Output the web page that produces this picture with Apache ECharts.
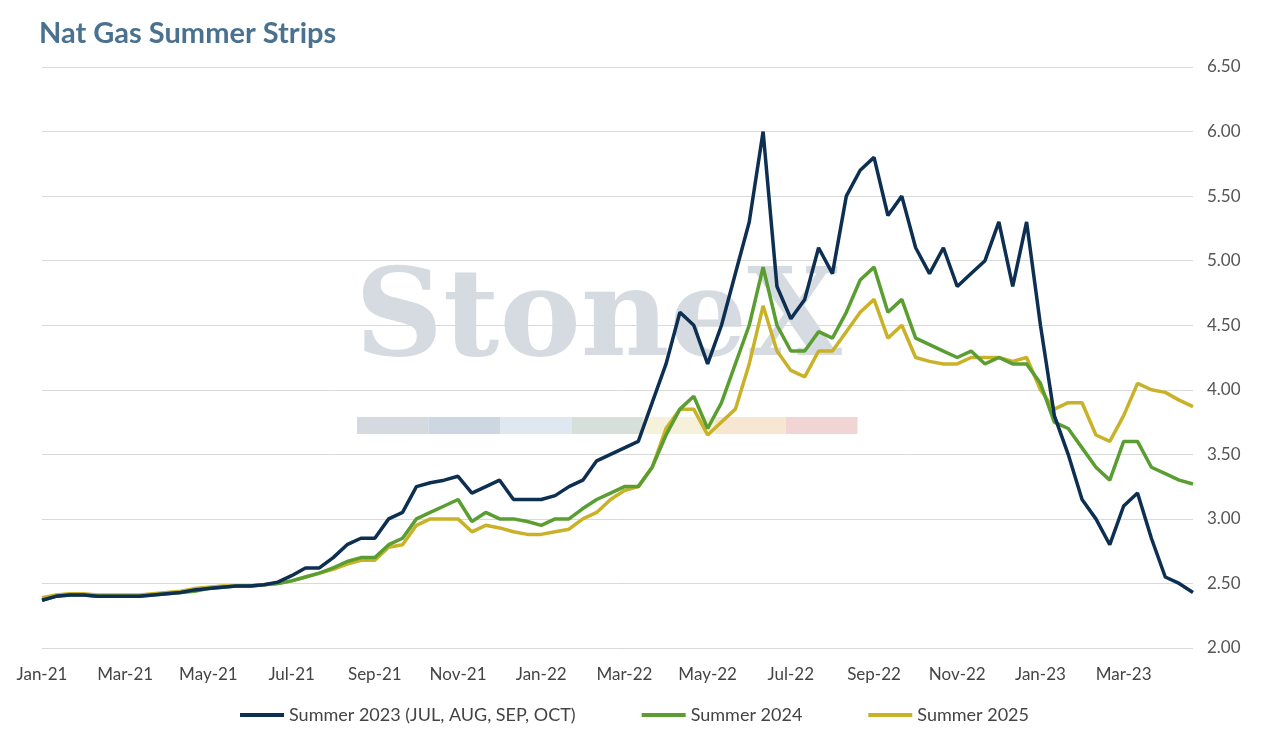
<!DOCTYPE html>
<html><head><meta charset="utf-8">
<script src="https://cdn.jsdelivr.net/npm/echarts@6/dist/echarts.min.js"></script>
<style>html,body{margin:0;padding:0;background:#fff}#chart{width:1269px;height:737px}</style>
</head><body><div id="chart"></div>
<script>
// three samples per month (1st, 11th, 21st), Jan-21 .. Apr-23
const monthNames = ['Jan','Feb','Mar','Apr','May','Jun','Jul','Aug','Sep','Oct','Nov','Dec']
const dates = []
for (let y = 2021; y <= 2023; y++) {
  for (let m = 0; m < 12; m++) {
    if (y === 2023 && m > 3) break
    ;[1, 11, 21].forEach(d => dates.push(monthNames[m] + '-' + String(y).slice(2) + '|' + d))
  }
}
const summer2023 = [
  2.37,2.40,2.41, 2.41,2.40,2.40, 2.40,2.40,2.41, 2.42,2.43,2.45, 2.46,2.47,2.48, 2.48,2.49,2.51,
  2.56,2.62,2.62, 2.70,2.80,2.85, 2.85,3.00,3.05, 3.25,3.28,3.30, 3.33,3.20,3.25, 3.30,3.15,3.15,
  3.15,3.18,3.25, 3.30,3.45,3.50, 3.55,3.60,3.90, 4.20,4.60,4.50, 4.20,4.50,4.90, 5.30,6.00,4.80,
  4.55,4.70,5.10, 4.90,5.50,5.70, 5.80,5.35,5.50, 5.10,4.90,5.10, 4.80,4.90,5.00, 5.30,4.80,5.30,
  4.50,3.80,3.50, 3.15,3.00,2.80, 3.10,3.20,2.85, 2.55,2.50,2.43
]
const summer2024 = [
  2.37,2.40,2.41, 2.41,2.40,2.40, 2.40,2.40,2.41, 2.42,2.43,2.44, 2.46,2.47,2.48, 2.48,2.49,2.50,
  2.52,2.55,2.58, 2.62,2.67,2.70, 2.70,2.80,2.85, 3.00,3.05,3.10, 3.15,2.98,3.05, 3.00,3.00,2.98,
  2.95,3.00,3.00, 3.08,3.15,3.20, 3.25,3.25,3.40, 3.65,3.85,3.95, 3.70,3.90,4.20, 4.50,4.95,4.50,
  4.30,4.30,4.45, 4.40,4.60,4.85, 4.95,4.60,4.70, 4.40,4.35,4.30, 4.25,4.30,4.20, 4.25,4.20,4.20,
  4.05,3.75,3.70, 3.55,3.40,3.30, 3.60,3.60,3.40, 3.35,3.30,3.27
]
const summer2025 = [
  2.39,2.41,2.42, 2.42,2.41,2.41, 2.41,2.41,2.42, 2.43,2.44,2.46, 2.47,2.48,2.48, 2.48,2.49,2.50,
  2.52,2.55,2.58, 2.61,2.65,2.68, 2.68,2.78,2.80, 2.95,3.00,3.00, 3.00,2.90,2.95, 2.93,2.90,2.88,
  2.88,2.90,2.92, 3.00,3.05,3.15, 3.22,3.25,3.40, 3.70,3.85,3.85, 3.65,3.75,3.85, 4.20,4.65,4.30,
  4.15,4.10,4.30, 4.30,4.45,4.60, 4.70,4.40,4.50, 4.25,4.22,4.20, 4.20,4.25,4.25, 4.25,4.22,4.25,
  4.00,3.85,3.90, 3.90,3.65,3.60, 3.80,4.05,4.00, 3.98,3.92,3.87
]
const seriesNames = ['Summer 2023 (JUL, AUG, SEP, OCT)', 'Summer 2024', 'Summer 2025']
const colors = ['#0d2f52', '#5a9e32', '#c9b227']
const stripeColors = ['#d0d5dd','#c8d3df','#dbe5ef','#d2ddd5','#f5efd6','#f5e3cd','#efd0d0']

const chart = echarts.init(document.getElementById('chart'))
chart.setOption({
  animation: false,
  textStyle: { fontFamily: 'Lato' },
  title: { text: 'Nat Gas Summer Strips', left: 34, top: 14,
    textStyle: { color: '#4a7190', fontSize: 29, fontWeight: 'bold', fontFamily: 'Lato' } },
  graphic: [
    { type: 'text', left: 355, top: 262, z: 0, silent: true,
      style: { text: 'StoneX', font: 'bold 122px "DejaVu Serif"', fill: 'rgba(180,188,200,0.55)' } },
    ...stripeColors.map((c, i) => ({ type: 'rect', z: 0, silent: true,
      shape: { x: 357 + i * 71.5, y: 417, width: 71.5, height: 17 }, style: { fill: c, opacity: 0.9 } }))
  ],
  grid: { left: 42, right: 76, top: 67, bottom: 89 },
  legend: { bottom: 8, itemWidth: 44, itemHeight: 4, itemGap: 66, icon: 'rect',
    textStyle: { fontSize: 18, color: '#444' } },
  xAxis: { type: 'category', data: dates, boundaryGap: false,
    axisLine: { show: false }, axisTick: { show: false },
    axisLabel: { fontSize: 17, color: '#444', margin: 18,
      interval: (i, v) => v.endsWith('|1') && ['Jan','Mar','May','Jul','Sep','Nov'].includes(v.slice(0,3)),
      formatter: v => v.split('|')[0] } },
  yAxis: { type: 'value', position: 'right', min: 2, max: 6.5, interval: 0.5,
    axisLine: { show: false }, axisTick: { show: false },
    splitLine: { lineStyle: { color: '#d9d9d9' } },
    axisLabel: { fontSize: 17, color: '#555', margin: 14, formatter: v => v.toFixed(2) } },
  series: [summer2023, summer2024, summer2025].map((d, i) => ({
    name: seriesNames[i], type: 'line', data: d, showSymbol: false, z: 5 - i,
    lineStyle: { width: 3.5, color: colors[i] }, itemStyle: { color: colors[i] }
  }))
})
</script></body></html>
